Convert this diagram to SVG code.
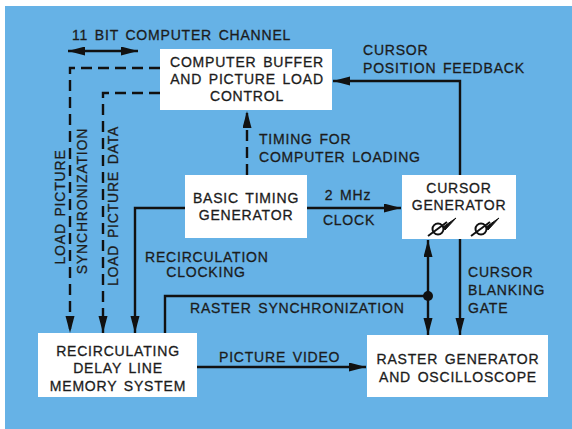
<svg xmlns="http://www.w3.org/2000/svg" width="572" height="429" viewBox="0 0 572 429">
<style>
text{font-family:"Liberation Sans",Arial,sans-serif;font-size:14px;fill:#1c1c1c;stroke:#1c1c1c;stroke-width:0.3px;letter-spacing:0.8px;word-spacing:2px}
.c{text-anchor:middle}
.box{fill:#ffffff}
.ln{fill:none;stroke:#111;stroke-width:2.4}
.dash{stroke-dasharray:11 6}
</style>
<defs>
<marker id="ah" markerUnits="userSpaceOnUse" markerWidth="18" markerHeight="10" refX="17" refY="4.5" orient="auto">
<path d="M0,0 L17,4.5 L0,9 z" fill="#111"/>
</marker>
<marker id="as" markerUnits="userSpaceOnUse" markerWidth="18" markerHeight="10" refX="0" refY="4.5" orient="auto">
<path d="M17,0 L0,4.5 L17,9 z" fill="#111"/>
</marker>
</defs>
<rect x="0" y="0" width="572" height="429" fill="#ffffff"/>
<rect x="5" y="6" width="567" height="423" fill="#66b2e6"/>

<g id="connectors">
<path class="ln" d="M68,51 H138" marker-start="url(#as)" marker-end="url(#ah)"/>
<path class="ln dash" d="M160,68 H70 V333" marker-end="url(#ah)"/>
<path class="ln dash" d="M160,93 H103 V333" marker-end="url(#ah)"/>
<path class="ln" d="M185,208 H135 V333" marker-end="url(#ah)"/>
<path class="ln" d="M165,333 V296 H428"/>
<path class="ln" d="M428,296 V240" marker-end="url(#ah)"/>
<path class="ln" d="M428,296 V335" marker-end="url(#ah)"/>
<circle cx="428" cy="296" r="5" fill="#111"/>
<path class="ln" d="M460,239 V335" marker-end="url(#ah)"/>
<path class="ln" d="M460,175 V81 H333" marker-end="url(#ah)"/>
<path class="ln dash" d="M247,175 V111" marker-end="url(#ah)"/>
<path class="ln" d="M307,208 H401" marker-end="url(#ah)"/>
<path class="ln" d="M197,367 H366" marker-end="url(#ah)"/>
</g>

<g id="labels">
<text x="72" y="40">11 BIT COMPUTER CHANNEL</text>
<text x="363" y="55">CURSOR</text>
<text x="363" y="73">POSITION FEEDBACK</text>
<text x="259" y="144">TIMING FOR</text>
<text x="259" y="162">COMPUTER LOADING</text>
<text class="c" x="348" y="200">2 MHz</text>
<text class="c" x="349" y="225">CLOCK</text>
<text x="145" y="262">RECIRCULATION</text>
<text class="c" x="206" y="277">CLOCKING</text>
<text x="468" y="277">CURSOR</text>
<text x="468" y="295">BLANKING</text>
<text x="468" y="313">GATE</text>
<text x="190" y="313">RASTER SYNCHRONIZATION</text>
<text x="219" y="362">PICTURE VIDEO</text>
<text class="c" transform="translate(65,207) rotate(-90)">LOAD PICTURE</text>
<text class="c" transform="translate(87,201) rotate(-90)">SYNCHRONIZATION</text>
<text class="c" transform="translate(118,206) rotate(-90)">LOAD PICTURE DATA</text>
</g>

<g id="computer-buffer">
<rect class="box" x="160" y="49" width="172" height="61"/>
<text class="c" x="247" y="67">COMPUTER BUFFER</text>
<text class="c" x="247" y="84">AND PICTURE LOAD</text>
<text class="c" x="247" y="101">CONTROL</text>
</g>

<g id="basic-timing">
<rect class="box" x="185" y="175" width="122" height="63"/>
<text class="c" x="246" y="203">BASIC TIMING</text>
<text class="c" x="246" y="220">GENERATOR</text>
</g>

<g id="cursor-generator">
<rect class="box" x="402" y="175" width="114" height="64"/>
<text class="c" x="459" y="193">CURSOR</text>
<text class="c" x="459" y="210">GENERATOR</text>
<g id="pot1" stroke="#111" fill="none" stroke-width="2">
<circle cx="438" cy="229" r="5.5"/>
<path d="M428,236 L447,222"/>
<path d="M443,227 L456,218 L445,230 z" fill="#111" stroke-width="1"/>
</g>
<g id="pot2" stroke="#111" fill="none" stroke-width="2">
<circle cx="481" cy="229" r="5.5"/>
<path d="M471,236 L490,222"/>
<path d="M486,227 L499,218 L488,230 z" fill="#111" stroke-width="1"/>
</g>
</g>

<g id="recirculating">
<rect class="box" x="38" y="333" width="159" height="64"/>
<text class="c" x="118" y="356">RECIRCULATING</text>
<text class="c" x="118" y="373">DELAY LINE</text>
<text class="c" x="118" y="391">MEMORY SYSTEM</text>
</g>

<g id="raster-generator">
<rect class="box" x="367" y="335" width="181" height="62"/>
<text class="c" x="458" y="364">RASTER GENERATOR</text>
<text class="c" x="458" y="382">AND OSCILLOSCOPE</text>
</g>
</svg>
